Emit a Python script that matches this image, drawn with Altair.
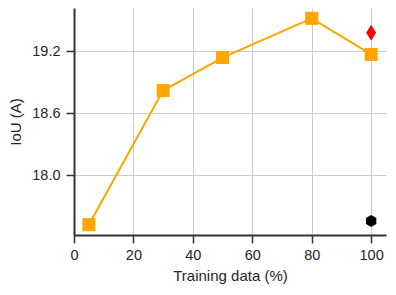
import altair as alt
import pandas as pd

train_pct = [5, 30, 50, 80, 100]
iou = [17.52, 18.82, 19.14, 19.52, 19.17]
diamond_x = [100]
diamond_y = [19.38]
hex_x = [100]
hex_y = [17.555]

main = pd.DataFrame({"x": train_pct, "y": iou})
dia = pd.DataFrame({"x": diamond_x, "y": diamond_y})
hexa = pd.DataFrame({"x": hex_x, "y": hex_y})

xs = alt.Scale(domain=[0, 105], nice=False, zero=False)
ys = alt.Scale(domain=[17.42, 19.62], nice=False, zero=False)

X = alt.X("x:Q", scale=xs, title="Training data (%)",
          axis=alt.Axis(values=[0, 20, 40, 60, 80, 100], format="d", labelFlush=False, ticks=True))
Y = alt.Y("y:Q", scale=ys, title="IoU (A)",
          axis=alt.Axis(values=[18.0, 18.6, 19.2], format=".1f", labelFlush=False, ticks=True))

line = alt.Chart(main).mark_line(color="#FFA500", strokeWidth=2, clip=True).encode(x=X, y=Y)
sq = alt.Chart(main).mark_point(shape="square", filled=True, color="#FFA500", size=170, opacity=1).encode(x=X, y=Y)
dm = alt.Chart(dia).mark_point(shape="M0,-1L0.62,0L0,1L-0.62,0Z", filled=True, color="#FF0000", size=256, opacity=1).encode(x=X, y=Y)
hx = alt.Chart(hexa).mark_point(shape="M0,-1L0.866,-0.5L0.866,0.5L0,1L-0.866,0.5L-0.866,-0.5Z", filled=True, color="#000000", size=144, opacity=1).encode(x=X, y=Y)

chart = alt.layer(line, sq, dm, hx).properties(
    width=312, height=227,
    autosize=alt.AutoSizeParams(type="none"),
    padding={"left": 66, "top": 0, "right": 2, "bottom": 52},
).configure_view(stroke=None).configure_axis(
    labelFont="Liberation Sans", titleFont="Liberation Sans",
    labelFontSize=14.5, titleFontSize=15, labelColor="#262626", titleColor="#262626",
    titleFontWeight="normal", gridColor="#cccccc", gridWidth=1,
    domainColor="#333333", domainWidth=2, tickColor="#333333", tickWidth=1.5, tickSize=8,
    labelPadding=5,
).configure_axisX(titlePadding=7).configure_axisY(titlePadding=8, labelPadding=6)

chart.save("out.html", embed_options={"renderer": "svg", "actions": False})
